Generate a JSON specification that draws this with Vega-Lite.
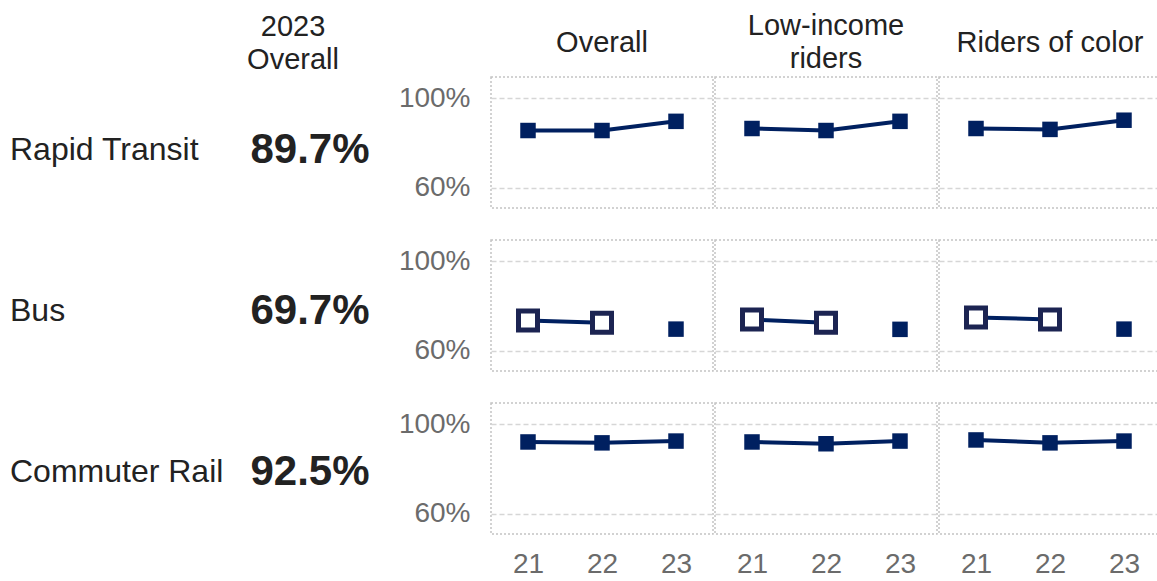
{
  "$schema": "https://vega.github.io/schema/vega-lite/v6.json",
  "padding": {"left": 10, "top": 12, "right": 0, "bottom": 0},
  "background": "white",
  "config": {
    "font": "Liberation Sans",
    "concat": {"spacing": 28}
  },
  "datasets": {
    "summary": [
      {"mode": "Rapid Transit", "hdr": "2023|Overall", "value": "89.7%"},
      {"mode": "Bus", "hdr": "2023|Overall", "value": "69.7%"},
      {"mode": "Commuter Rail", "hdr": "2023|Overall", "value": "92.5%"}
    ],
    "series": [
      {"mode": "Rapid Transit", "group": "Overall", "year": "21", "pct": 85.6, "method": "new"},
      {"mode": "Rapid Transit", "group": "Overall", "year": "22", "pct": 85.6, "method": "new"},
      {"mode": "Rapid Transit", "group": "Overall", "year": "23", "pct": 89.7, "method": "new"},
      {"mode": "Rapid Transit", "group": "Low-income|riders", "year": "21", "pct": 86.5, "method": "new"},
      {"mode": "Rapid Transit", "group": "Low-income|riders", "year": "22", "pct": 85.6, "method": "new"},
      {"mode": "Rapid Transit", "group": "Low-income|riders", "year": "23", "pct": 89.7, "method": "new"},
      {"mode": "Rapid Transit", "group": "Riders of color", "year": "21", "pct": 86.5, "method": "new"},
      {"mode": "Rapid Transit", "group": "Riders of color", "year": "22", "pct": 86.1, "method": "new"},
      {"mode": "Rapid Transit", "group": "Riders of color", "year": "23", "pct": 90.2, "method": "new"},
      {"mode": "Bus", "group": "Overall", "year": "21", "pct": 73.6, "method": "old"},
      {"mode": "Bus", "group": "Overall", "year": "22", "pct": 72.5, "method": "old"},
      {"mode": "Bus", "group": "Overall", "year": "23", "pct": 69.7, "method": "new"},
      {"mode": "Bus", "group": "Low-income|riders", "year": "21", "pct": 74.0, "method": "old"},
      {"mode": "Bus", "group": "Low-income|riders", "year": "22", "pct": 72.6, "method": "old"},
      {"mode": "Bus", "group": "Low-income|riders", "year": "23", "pct": 69.6, "method": "new"},
      {"mode": "Bus", "group": "Riders of color", "year": "21", "pct": 74.9, "method": "old"},
      {"mode": "Bus", "group": "Riders of color", "year": "22", "pct": 74.0, "method": "old"},
      {"mode": "Bus", "group": "Riders of color", "year": "23", "pct": 69.7, "method": "new"},
      {"mode": "Commuter Rail", "group": "Overall", "year": "21", "pct": 92.1, "method": "new"},
      {"mode": "Commuter Rail", "group": "Overall", "year": "22", "pct": 91.7, "method": "new"},
      {"mode": "Commuter Rail", "group": "Overall", "year": "23", "pct": 92.5, "method": "new"},
      {"mode": "Commuter Rail", "group": "Low-income|riders", "year": "21", "pct": 92.1, "method": "new"},
      {"mode": "Commuter Rail", "group": "Low-income|riders", "year": "22", "pct": 91.3, "method": "new"},
      {"mode": "Commuter Rail", "group": "Low-income|riders", "year": "23", "pct": 92.5, "method": "new"},
      {"mode": "Commuter Rail", "group": "Riders of color", "year": "21", "pct": 93.0, "method": "new"},
      {"mode": "Commuter Rail", "group": "Riders of color", "year": "22", "pct": 91.7, "method": "new"},
      {"mode": "Commuter Rail", "group": "Riders of color", "year": "23", "pct": 92.5, "method": "new"}
    ]
  },
  "hconcat": [
    {
      "data": {"name": "summary"},
      "facet": {
        "row": {"field": "mode", "type": "nominal", "sort": ["Rapid Transit", "Bus", "Commuter Rail"], "header": null},
        "column": {
          "field": "hdr", "type": "nominal", "title": null,
          "header": {
            "labelExpr": "indexof(datum.value, '|') >= 0 ? [split(datum.value, '|')[0], '\u200b', split(datum.value, '|')[1]] : ['\u200b', datum.value, '\u200b']",
            "labelFont": "Liberation Sans", "labelFontSize": 29, "labelColor": "#222222",
            "labelAnchor": "end", "labelAlign": "center",
            "labelLineHeight": 16.5, "labelPadding": 2
          }
        }
      },
      "spacing": {"row": 30, "column": 0},
      "spec": {
        "width": 283,
        "height": 131,
        "view": {"stroke": null},
        "layer": [
          {
            "mark": {"type": "text", "align": "left", "baseline": "middle", "fontSize": 32, "color": "#222222", "dy": 7},
            "encoding": {"text": {"field": "mode"}, "x": {"value": 0}}
          },
          {
            "mark": {"type": "text", "align": "center", "baseline": "middle", "fontSize": 42, "fontWeight": "bold", "color": "#222222", "dx": 17, "dy": 7},
            "encoding": {"text": {"field": "value"}, "x": {"value": "width"}}
          }
        ]
      }
    },
    {
      "data": {"name": "series"},
      "facet": {
        "row": {"field": "mode", "type": "nominal", "sort": ["Rapid Transit", "Bus", "Commuter Rail"], "header": null},
        "column": {
          "field": "group", "type": "nominal", "title": null,
          "sort": ["Overall", "Low-income|riders", "Riders of color"],
          "header": {
            "labelExpr": "indexof(datum.value, '|') >= 0 ? [split(datum.value, '|')[0], '\u200b', split(datum.value, '|')[1]] : ['\u200b', datum.value, '\u200b']",
            "labelFont": "Liberation Sans", "labelFontSize": 29, "labelColor": "#222222",
            "labelAnchor": "middle", "labelAlign": "center",
            "labelLineHeight": 16.5, "labelPadding": 2
          }
        }
      },
      "spacing": {"row": 30, "column": 0},
      "spec": {
        "width": 222,
        "height": 131,
        "view": {"stroke": "#c4c4c4", "strokeDash": [2, 2], "strokeWidth": 1.5},
        "encoding": {
          "x": {
            "field": "year", "type": "ordinal",
            "scale": {"type": "point", "padding": 0.5},
            "axis": {"title": null, "labelAngle": 0, "ticks": false, "domain": false, "grid": false,
                     "labelFontSize": 28, "labelColor": "#6b6b6b", "labelPadding": 15}
          },
          "y": {
            "field": "pct", "type": "quantitative",
            "scale": {"domain": [51, 109.5], "nice": false, "zero": false},
            "axis": {"title": null, "values": [60, 100], "labelExpr": "datum.value + '%'",
                     "ticks": false, "domain": false, "grid": true,
                     "gridColor": "#d6d6d6", "gridDash": [5, 3], "gridWidth": 1.5,
                     "labelFontSize": 28, "labelColor": "#6b6b6b", "labelPadding": 20}
          }
        },
        "layer": [
          {
            "mark": {"type": "line", "color": "#002060", "strokeWidth": 4},
            "encoding": {"detail": {"field": "method"}}
          },
          {
            "transform": [{"filter": "datum.method == 'new'"}],
            "mark": {"type": "square", "filled": true, "color": "#002060", "size": 240, "opacity": 1}
          },
          {
            "transform": [{"filter": "datum.method == 'old'"}],
            "mark": {"type": "square", "filled": true, "fill": "white", "stroke": "#1c2452", "strokeWidth": 5, "size": 361, "opacity": 1}
          }
        ]
      }
    }
  ]
}
